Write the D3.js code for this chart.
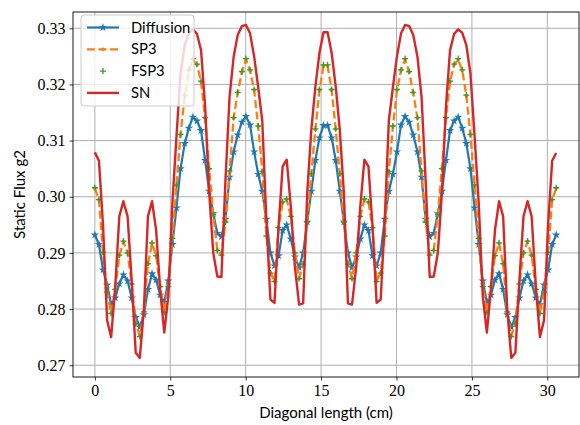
<!DOCTYPE html>
<html>
<head>
<meta charset="utf-8">
<script src="https://cdn.jsdelivr.net/npm/d3@7"></script>
<style>
body { margin: 0; background: #fff; }
svg { display: block; }
</style>
</head>
<body>
<div class="figure"></div>
<script>
// diagonal position (cm)
var xs = [0.00,0.27,0.54,0.81,1.08,1.35,1.62,1.89,2.17,2.44,2.71,2.98,3.25,3.52,3.79,4.06,4.33,4.60,4.87,5.14,
  5.41,5.68,5.96,6.23,6.50,6.77,7.04,7.31,7.58,7.85,8.12,8.39,8.66,8.93,9.20,9.47,9.75,10.02,10.29,10.56,
  10.83,11.10,11.37,11.64,11.91,12.18,12.45,12.72,12.99,13.26,13.54,13.81,14.08,14.35,14.62,14.89,15.16,15.43,15.70,15.97,
  16.24,16.51,16.78,17.05,17.33,17.60,17.87,18.14,18.41,18.68,18.95,19.22,19.49,19.76,20.03,20.30,20.57,20.84,21.11,21.39,
  21.66,21.93,22.20,22.47,22.74,23.01,23.28,23.55,23.82,24.09,24.36,24.63,24.90,25.18,25.45,25.72,25.99,26.26,26.53,26.80,
  27.07,27.34,27.61,27.88,28.15,28.42,28.69,28.96,29.24,29.51,29.78,30.05,30.32,30.59]

var diffusion = [0.2932,0.2915,0.2870,0.2843,0.2808,0.2820,0.2845,0.2861,0.2850,0.2820,0.2785,0.2768,0.2790,0.2835,0.2863,0.2852,0.2825,0.2812,0.2850,0.2915,
  0.2980,0.3050,0.3095,0.3122,0.3142,0.3135,0.3118,0.3065,0.3010,0.2970,0.2935,0.2929,0.2960,0.3035,0.3080,0.3110,0.3133,0.3143,0.3128,0.3080,
  0.3040,0.3010,0.2960,0.2900,0.2877,0.2895,0.2940,0.2950,0.2925,0.2893,0.2874,0.2900,0.2955,0.3010,0.3065,0.3105,0.3127,
  0.3127,0.3105,0.3065,0.3010,0.2955,0.2900,0.2874,0.2893,0.2925,0.2950,0.2940,0.2895,0.2877,0.2900,0.2960,0.3010,0.3040,0.3080,0.3128,0.3143,
  0.3133,0.3110,0.3080,0.3035,0.2960,0.2929,0.2935,0.2970,0.3010,0.3065,0.3118,0.3135,0.3142,0.3122,0.3095,0.3050,0.2980,0.2915,0.2850,0.2812,
  0.2825,0.2852,0.2863,0.2835,0.2790,0.2768,0.2785,0.2820,0.2850,0.2861,0.2845,0.2820,0.2808,0.2843,0.2870,0.2915,0.2932]

var sp3 = [0.3015,0.2995,0.2900,0.2830,0.2793,0.2835,0.2895,0.2920,0.2900,0.2845,0.2775,0.2752,0.2795,0.2880,0.2917,0.2895,0.2840,0.2795,0.2840,0.2925,
  0.3020,0.3110,0.3180,0.3225,0.3244,0.3235,0.3205,0.3140,0.3050,0.2968,0.2905,0.2897,0.2955,0.3045,0.3140,0.3185,0.3222,0.3244,0.3225,0.3190,
  0.3125,0.3045,0.2930,0.2865,0.2850,0.2945,0.2990,0.2995,0.2965,0.2900,0.2855,0.2880,0.2955,0.3040,0.3120,0.3190,0.3233,
  0.3233,0.3190,0.3120,0.3040,0.2955,0.2880,0.2855,0.2900,0.2965,0.2995,0.2990,0.2945,0.2850,0.2865,0.2930,0.3045,0.3125,0.3190,0.3225,0.3244,
  0.3222,0.3185,0.3140,0.3045,0.2955,0.2897,0.2905,0.2968,0.3050,0.3140,0.3205,0.3235,0.3244,0.3225,0.3180,0.3110,0.3020,0.2925,0.2840,0.2795,
  0.2840,0.2895,0.2917,0.2880,0.2795,0.2752,0.2775,0.2845,0.2900,0.2920,0.2895,0.2835,0.2793,0.2830,0.2900,0.2995,0.3015]

var fsp3 = [0.3016,0.2995,0.2901,0.2830,0.2792,0.2835,0.2896,0.2921,0.2900,0.2845,0.2774,0.2751,0.2795,0.2881,0.2918,0.2895,0.2840,0.2794,0.2840,0.2926,
  0.3021,0.3111,0.3181,0.3226,0.3246,0.3236,0.3206,0.3141,0.3050,0.2968,0.2904,0.2896,0.2955,0.3046,0.3141,0.3186,0.3223,0.3246,0.3226,0.3191,
  0.3126,0.3045,0.2930,0.2864,0.2849,0.2945,0.2991,0.2996,0.2965,0.2900,0.2854,0.2880,0.2955,0.3041,0.3121,0.3191,0.3235,
  0.3235,0.3191,0.3121,0.3041,0.2955,0.2880,0.2854,0.2900,0.2965,0.2996,0.2991,0.2945,0.2849,0.2864,0.2930,0.3045,0.3126,0.3191,0.3226,0.3246,
  0.3223,0.3186,0.3141,0.3046,0.2955,0.2896,0.2904,0.2968,0.3050,0.3141,0.3206,0.3236,0.3246,0.3226,0.3181,0.3111,0.3021,0.2926,0.2840,0.2794,
  0.2840,0.2895,0.2918,0.2881,0.2795,0.2751,0.2774,0.2845,0.2900,0.2921,0.2896,0.2835,0.2792,0.2830,0.2901,0.2995,0.3016]

var sn = [0.3079,0.3064,0.2950,0.2780,0.2750,0.2840,0.2965,0.2992,0.2965,0.2852,0.2722,0.2713,0.2800,0.2965,0.2992,0.2941,0.2835,0.2758,0.2823,0.2989,
  0.3107,0.3220,0.3270,0.3292,0.3298,0.3290,0.3261,0.3161,0.3007,0.2900,0.2858,0.2857,0.3030,0.3178,0.3249,0.3288,0.3304,0.3306,0.3291,0.3250,
  0.3195,0.3135,0.2959,0.2817,0.2811,0.2947,0.3054,0.3066,0.2983,0.2876,0.2808,0.2810,0.3007,0.3119,0.3196,0.3256,0.3293,
  0.3293,0.3256,0.3196,0.3119,0.3007,0.2810,0.2808,0.2876,0.2983,0.3066,0.3054,0.2947,0.2811,0.2817,0.2959,0.3135,0.3195,0.3250,0.3291,0.3306,
  0.3304,0.3288,0.3249,0.3178,0.3030,0.2857,0.2858,0.2900,0.3007,0.3161,0.3261,0.3290,0.3298,0.3292,0.3270,0.3220,0.3107,0.2989,0.2823,0.2758,
  0.2835,0.2941,0.2992,0.2965,0.2800,0.2713,0.2722,0.2852,0.2965,0.2992,0.2965,0.2840,0.2750,0.2780,0.2950,0.3064,0.3078]

var xTicks = [0, 5, 10, 15, 20, 25, 30]
var yTicks = [0.27, 0.28, 0.29, 0.30, 0.31, 0.32, 0.33]
var seriesNames = ["Diffusion", "SP3", "FSP3", "SN"]

var dim = { w: 580, h: 425 }
var plot = { left: 73, right: 579, top: 12, bottom: 377 }

var colors = {
    diffusion: "#1f77b4",
    sp3: "#ff7f0e",
    fsp3: "#2ca02c",
    sn: "#d62728",
}

var svg = d3.select("div.figure")
    .append("svg")
    .attr("width", dim.w)
    .attr("height", dim.h)

var xScale = d3.scaleLinear()
    .domain([-1.45, 32.1])
    .range([plot.left, plot.right])

var yScale = d3.scaleLinear()
    .domain([0.2679, 0.3329])
    .range([plot.bottom, plot.top])

// grid
var grid = svg.append("g").attr("class", "grid")
grid.selectAll("line.gx")
    .data(xTicks).enter()
    .append("line")
    .attr("x1", function(d) { return xScale(d) })
    .attr("x2", function(d) { return xScale(d) })
    .attr("y1", plot.top)
    .attr("y2", plot.bottom)
    .attr("stroke", "#b0b0b0")
    .attr("stroke-width", 1)
grid.selectAll("line.gy")
    .data(yTicks).enter()
    .append("line")
    .attr("x1", plot.left)
    .attr("x2", plot.right)
    .attr("y1", function(d) { return yScale(d) })
    .attr("y2", function(d) { return yScale(d) })
    .attr("stroke", "#b0b0b0")
    .attr("stroke-width", 1)

var pts = function(ys) {
    return xs.map(function(x, i) { return [x, ys[i]] })
}

var line = d3.line()
    .x(function(d) { return xScale(d[0]) })
    .y(function(d) { return yScale(d[1]) })

var data = svg.append("g").attr("class", "data")

// Diffusion: solid line with star markers
data.append("path")
    .attr("d", line(pts(diffusion)))
    .attr("fill", "none")
    .attr("stroke", colors.diffusion)
    .attr("stroke-width", 2.2)
    .attr("stroke-linejoin", "round")

var star = d3.symbol().type(d3.symbolStar).size(22)
data.append("g")
    .selectAll("path")
    .data(pts(diffusion)).enter()
    .append("path")
    .attr("d", star)
    .attr("transform", function(d) { return "translate(" + xScale(d[0]) + "," + yScale(d[1]) + ")" })
    .attr("fill", colors.diffusion)

// SP3: dashed line with point markers
data.append("path")
    .attr("d", line(pts(sp3)))
    .attr("fill", "none")
    .attr("stroke", colors.sp3)
    .attr("stroke-width", 2.3)
    .attr("stroke-dasharray", "8,3.5")

data.append("g")
    .selectAll("circle")
    .data(pts(sp3)).enter()
    .append("circle")
    .attr("cx", function(d) { return xScale(d[0]) })
    .attr("cy", function(d) { return yScale(d[1]) })
    .attr("r", 1.8)
    .attr("fill", colors.sp3)

// FSP3: plus markers only
var plusSize = 3
data.append("g")
    .selectAll("path")
    .data(pts(fsp3)).enter()
    .append("path")
    .attr("d", function(d) {
        var cx = xScale(d[0]), cy = yScale(d[1])
        return "M" + (cx - plusSize) + "," + cy + "H" + (cx + plusSize) +
               "M" + cx + "," + (cy - plusSize) + "V" + (cy + plusSize)
    })
    .attr("stroke", colors.fsp3)
    .attr("stroke-width", 1.3)

// SN: solid line
data.append("path")
    .attr("d", line(pts(sn)))
    .attr("fill", "none")
    .attr("stroke", colors.sn)
    .attr("stroke-width", 2.4)
    .attr("stroke-linejoin", "round")

// axes
var tickFont = "'Liberation Serif', 'DejaVu Serif', serif"
var labelFont = "Lato, 'Noto Sans', 'DejaVu Sans', sans-serif"

var xAxis = d3.axisBottom(xScale)
    .tickValues(xTicks)
    .tickFormat(d3.format("d"))
    .tickSize(3.5)
    .tickPadding(4)

var gx = svg.append("g")
    .attr("transform", "translate(0," + plot.bottom + ")")
    .call(xAxis)
gx.select(".domain").remove()
gx.selectAll("text").style("font-family", tickFont).style("font-size", "16px").attr("fill", "#000")
gx.selectAll("line").attr("stroke", "#000").attr("stroke-width", 0.8)

var yAxis = d3.axisLeft(yScale)
    .tickValues(yTicks)
    .tickFormat(d3.format(".2f"))
    .tickSize(3.5)
    .tickPadding(4)

var gy = svg.append("g")
    .attr("transform", "translate(" + plot.left + ",0)")
    .call(yAxis)
gy.select(".domain").remove()
gy.selectAll("text").style("font-family", tickFont).style("font-size", "16px").attr("fill", "#000")
gy.selectAll("line").attr("stroke", "#000").attr("stroke-width", 0.8)

// frame
svg.append("rect")
    .attr("x", plot.left)
    .attr("y", plot.top)
    .attr("width", plot.right - plot.left)
    .attr("height", plot.bottom - plot.top)
    .attr("fill", "none")
    .attr("stroke", "#000")
    .attr("stroke-width", 0.9)

svg.append("text")
    .attr("x", (plot.left + plot.right) / 2)
    .attr("y", 418)
    .attr("text-anchor", "middle")
    .style("font-family", labelFont)
    .style("font-size", "15px")
    .text("Diagonal length (cm)")

svg.append("text")
    .attr("transform", "translate(25," + ((plot.top + plot.bottom) / 2) + ") rotate(-90)")
    .attr("text-anchor", "middle")
    .style("font-family", labelFont)
    .style("font-size", "15px")
    .text("Static Flux g2")

// legend
var legend = { x: 81, y: 15, w: 113, h: 91, rowH: 21.8, handle: [87, 119], textX: 131 }
var lg = svg.append("g").attr("class", "legend")
lg.append("rect")
    .attr("x", legend.x)
    .attr("y", legend.y)
    .attr("width", legend.w)
    .attr("height", legend.h)
    .attr("rx", 3)
    .attr("fill", "#fff")
    .attr("fill-opacity", 0.8)
    .attr("stroke", "#cccccc")
    .attr("stroke-width", 1)

var rowY = function(i) { return legend.y + 12.5 + i * legend.rowH }
var hx = (legend.handle[0] + legend.handle[1]) / 2

lg.append("line")
    .attr("x1", legend.handle[0]).attr("x2", legend.handle[1])
    .attr("y1", rowY(0)).attr("y2", rowY(0))
    .attr("stroke", colors.diffusion).attr("stroke-width", 2.2)
lg.append("path")
    .attr("d", star)
    .attr("transform", "translate(" + hx + "," + rowY(0) + ")")
    .attr("fill", colors.diffusion)

lg.append("line")
    .attr("x1", legend.handle[0]).attr("x2", legend.handle[1])
    .attr("y1", rowY(1)).attr("y2", rowY(1))
    .attr("stroke", colors.sp3).attr("stroke-width", 2.3)
    .attr("stroke-dasharray", "8,3.5")
lg.append("circle")
    .attr("cx", hx).attr("cy", rowY(1)).attr("r", 1.8)
    .attr("fill", colors.sp3)

lg.append("path")
    .attr("d", "M" + (hx - plusSize) + "," + rowY(2) + "H" + (hx + plusSize) +
               "M" + hx + "," + (rowY(2) - plusSize) + "V" + (rowY(2) + plusSize))
    .attr("stroke", colors.fsp3).attr("stroke-width", 1.3)

lg.append("line")
    .attr("x1", legend.handle[0]).attr("x2", legend.handle[1])
    .attr("y1", rowY(3)).attr("y2", rowY(3))
    .attr("stroke", colors.sn).attr("stroke-width", 2.4)

lg.selectAll("text")
    .data(seriesNames).enter()
    .append("text")
    .attr("x", legend.textX)
    .attr("y", function(d, i) { return rowY(i) })
    .attr("dy", "0.35em")
    .style("font-family", labelFont)
    .style("font-size", "14.8px")
    .text(function(d) { return d })
</script>
</body>
</html>
